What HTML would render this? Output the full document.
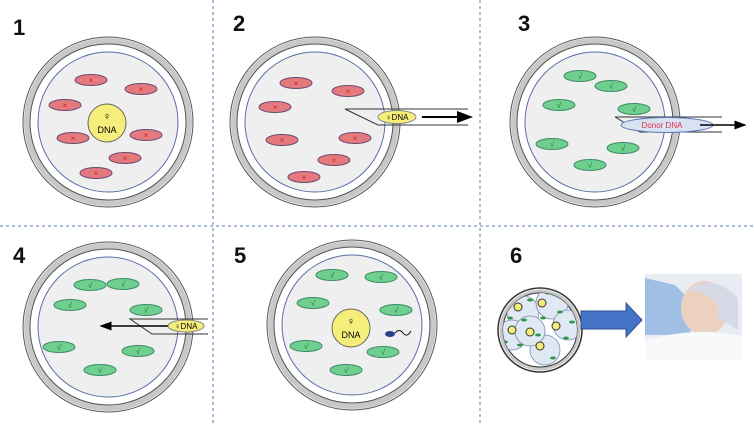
<!DOCTYPE html>
<html><head><meta charset="utf-8"><style>
html,body{margin:0;padding:0;background:#fff;}
svg{display:block;font-family:"Liberation Sans",sans-serif;}
</style></head><body>
<svg width="754" height="424" viewBox="0 0 754 424" xmlns="http://www.w3.org/2000/svg">
<defs>
<g id="r"><ellipse rx="16" ry="5.5" fill="#e47a7e" stroke="#6b4a70" stroke-width="1"/><text x="0" y="3" font-size="8" fill="#d0202a" text-anchor="middle">×</text></g>
<g id="g"><ellipse rx="16" ry="5.5" fill="#6fcf8f" stroke="#3c8a66" stroke-width="1"/><text x="0" y="3" font-size="8" fill="#1f7a3a" text-anchor="middle">√</text></g>
<g id="cell"><circle r="85" fill="#fff" stroke="#555" stroke-width="1"/><circle r="81" fill="none" stroke="#c8c8c8" stroke-width="6"/><circle r="78" fill="#fff" stroke="#555" stroke-width="1"/><circle r="70" fill="#efefef" stroke="#5a6fa8" stroke-width="1"/></g>
<marker id="ah" markerWidth="8" markerHeight="8" refX="7" refY="4" orient="auto"><path d="M0,1 L8,4 L0,7z" fill="#000"/></marker>
<clipPath id="c6"><circle cx="540" cy="330" r="37"/></clipPath>
</defs>
<g stroke="#5a7ab8" stroke-dasharray="3,3" stroke-width="1">
<line x1="213" y1="0" x2="213" y2="424"/><line x1="480" y1="0" x2="480" y2="424"/><line x1="0" y1="226" x2="754" y2="226"/></g>
<g font-size="22" font-weight="bold" fill="#111">
<text x="13" y="35">1</text><text x="233" y="31">2</text><text x="518" y="31">3</text><text x="13" y="263">4</text><text x="234" y="263">5</text><text x="510" y="263">6</text></g>
<!-- panel 1 -->
<use href="#cell" x="108" y="122"/>
<use href="#r" x="91" y="80"/><use href="#r" x="141" y="89"/><use href="#r" x="65" y="105"/><use href="#r" x="73" y="138"/><use href="#r" x="146" y="135"/><use href="#r" x="125" y="158"/><use href="#r" x="96" y="173"/>
<circle cx="107" cy="123" r="19" fill="#f5ee7a" stroke="#666"/><text x="107" y="120" font-size="11" text-anchor="middle">♀</text><text x="107" y="133" font-size="9" text-anchor="middle">DNA</text>
<!-- panel 2 -->
<use href="#cell" x="315" y="122"/>
<use href="#r" x="296" y="83"/><use href="#r" x="348" y="91"/><use href="#r" x="275" y="107"/><use href="#r" x="282" y="140"/><use href="#r" x="355" y="138"/><use href="#r" x="334" y="160"/><use href="#r" x="304" y="177"/>
<path d="M345,109 L468,109 M345,109 L378,125 L468,125" fill="none" stroke="#333"/>
<ellipse cx="397" cy="117" rx="19" ry="6.5" fill="#f5ee7a" stroke="#888"/><text x="397" y="120" font-size="8" text-anchor="middle">♀DNA</text>
<line x1="422" y1="117" x2="471" y2="117" stroke="#000" stroke-width="2" marker-end="url(#ah)"/>
<!-- panel 3 -->
<use href="#cell" x="595" y="122"/>
<use href="#g" x="580" y="76"/><use href="#g" x="611" y="86"/><use href="#g" x="559" y="105"/><use href="#g" x="634" y="109"/><use href="#g" x="552" y="144"/><use href="#g" x="623" y="148"/><use href="#g" x="590" y="165"/>
<path d="M615,117 L722,117 M615,117 L640,132 L722,132" fill="none" stroke="#333"/>
<ellipse cx="667" cy="125" rx="46" ry="7.5" fill="#d8e2f2" stroke="#5a7ab8"/><text x="662" y="128" font-size="8" fill="#e03040" text-anchor="middle">Donor DNA</text>
<line x1="700" y1="125" x2="745" y2="125" stroke="#000" stroke-width="1.5" marker-end="url(#ah)"/>
<!-- panel 4 -->
<use href="#cell" x="108" y="327"/>
<use href="#g" x="90" y="285"/><use href="#g" x="123" y="284"/><use href="#g" x="70" y="305"/><use href="#g" x="146" y="310"/><use href="#g" x="59" y="347"/><use href="#g" x="138" y="351"/><use href="#g" x="100" y="370"/>
<path d="M208,319 L130,319 L152,334 L208,334" fill="none" stroke="#333"/>
<ellipse cx="186" cy="326" rx="18" ry="6" fill="#f5ee7a" stroke="#888"/><text x="186" y="329" font-size="8" text-anchor="middle">♀DNA</text>
<line x1="168" y1="326" x2="101" y2="326" stroke="#000" stroke-width="1.5" marker-end="url(#ah)"/>
<!-- panel 5 -->
<use href="#cell" x="352" y="325"/>
<use href="#g" x="332" y="275"/><use href="#g" x="381" y="277"/><use href="#g" x="313" y="303"/><use href="#g" x="396" y="310"/><use href="#g" x="306" y="346"/><use href="#g" x="383" y="352"/><use href="#g" x="346" y="370"/>
<circle cx="351" cy="328" r="19" fill="#f5ee7a" stroke="#666"/><text x="351" y="325" font-size="11" text-anchor="middle">♀</text><text x="351" y="338" font-size="9" text-anchor="middle">DNA</text>
<ellipse cx="390" cy="334" rx="5" ry="3" fill="#2a3f8a"/><path d="M395,333 q4,-5 8,0 t8,-2" fill="none" stroke="#111"/>
<!-- panel 6 -->
<circle cx="540" cy="330" r="42" fill="#fff" stroke="#333" stroke-width="1.5"/><circle cx="540" cy="330" r="39" fill="none" stroke="#c8c8c8" stroke-width="3"/><circle cx="540" cy="330" r="37" fill="#fff" stroke="#333"/>
<g clip-path="url(#c6)">
<g fill="#dfe8f3" stroke="#7a8ab0" stroke-width="0.8">
<circle cx="523" cy="312" r="16"/><circle cx="552" cy="303" r="16"/><circle cx="568" cy="325" r="15"/><circle cx="512" cy="335" r="15"/><circle cx="545" cy="350" r="15"/><circle cx="530" cy="331" r="15"/></g>
<g fill="#f5ee7a" stroke="#333"><circle cx="518" cy="307" r="4"/><circle cx="542" cy="303" r="4"/><circle cx="556" cy="326" r="4"/><circle cx="512" cy="330" r="4"/><circle cx="530" cy="332" r="4"/><circle cx="540" cy="346" r="4"/></g>
<g fill="#2a9a4a"><ellipse cx="510" cy="318" rx="3" ry="1.5"/><ellipse cx="530" cy="300" rx="3" ry="1.5"/><ellipse cx="560" cy="312" rx="3" ry="1.5"/><ellipse cx="566" cy="338" rx="3" ry="1.5"/><ellipse cx="505" cy="342" rx="3" ry="1.5"/><ellipse cx="520" cy="345" rx="3" ry="1.5"/><ellipse cx="553" cy="358" rx="3" ry="1.5"/><ellipse cx="543" cy="318" rx="3" ry="1.5"/><ellipse cx="538" cy="335" rx="3" ry="1.5"/><ellipse cx="524" cy="320" rx="3" ry="1.5"/><ellipse cx="572" cy="322" rx="3" ry="1.5"/><ellipse cx="548" cy="293" rx="3" ry="1.5"/></g>
</g>
<path d="M581,311 L626,311 L626,303 L642,320 L626,337 L626,329 L581,329z" fill="#4472c4" stroke="#2f528f"/>
<rect x="645" y="274" width="97" height="86" fill="#e9edf3"/>
<path d="M645,278 L675,285 L695,305 L690,335 L645,335z" fill="#9fbfe4"/>
<ellipse cx="705" cy="308" rx="24" ry="27" fill="#ecd0c0"/>
<path d="M688,290 Q712,272 738,298 L738,330 L718,318 Q722,300 700,292z" fill="#d5dae6"/>
<path d="M645,340 Q700,326 742,336 L742,360 L645,360z" fill="#f8f9fb"/>
</svg>
</body></html>
